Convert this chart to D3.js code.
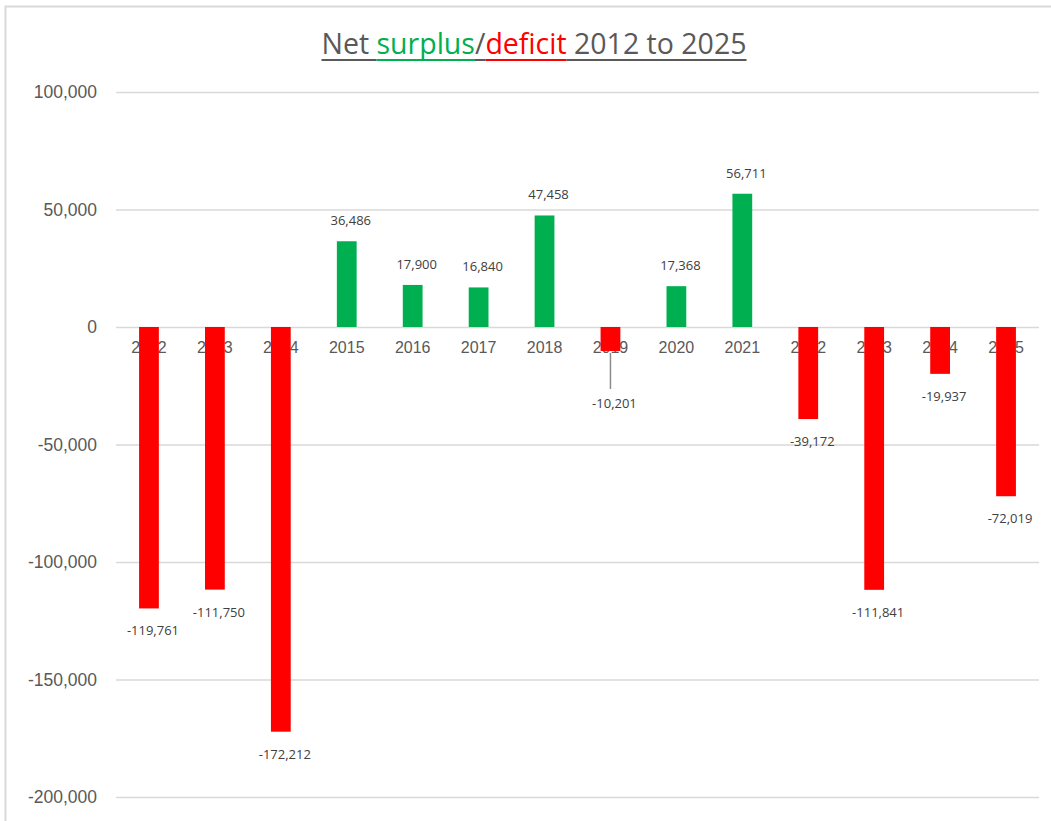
<!DOCTYPE html>
<html>
<head>
<meta charset="utf-8">
<script src="https://cdn.jsdelivr.net/npm/d3@7"></script>
<style>
  body { margin: 0; background: #fff; }
  svg { display: block; font-family: "Open Sans", "Noto Sans", sans-serif; }
</style>
</head>
<body>
<svg id="drawing_region"></svg>
<script>
const years = ['2012', '2013', '2014', '2015', '2016', '2017', '2018', '2019', '2020', '2021', '2022', '2023', '2024', '2025'];
const values = [-119761, -111750, -172212, 36486, 17900, 16840, 47458, -10201, 17368, 56711, -39172, -111841, -19937, -72019];
const yticks = [100000, 50000, 0, -50000, -100000, -150000, -200000];

const width = 1051, height = 821;
const margin = { top: 92, right: 12, bottom: 24, left: 116 };

// plain hyphen for negatives, like the spreadsheet
const fmt = d3.formatLocale({ decimal: '.', thousands: ',', grouping: [3], currency: ['', ''], minus: '-' }).format(',');

const svg = d3.select('#drawing_region')
    .attr('width', width)
    .attr('height', height);

// outer chart border
svg.append('rect')
    .attr('x', 5.5).attr('y', 6.5)
    .attr('width', width + 20).attr('height', height + 20)
    .attr('fill', 'none')
    .attr('stroke', '#d9d9d9')
    .attr('stroke-width', 2);

const inner_width = width - margin.left - margin.right;
const inner_height = 797 - margin.top;

const chart = svg.append('g')
    .attr('transform', `translate(${margin.left}, ${margin.top})`);

const xscale = d3.scaleBand()
    .domain(years)
    .range([0, inner_width])
    .paddingInner(0.7)
    .paddingOuter(0.35);

const yscale = d3.scaleLinear()
    .domain([-200000, 100000])
    .range([inner_height, 0]);

// gridlines + y labels
const yaxis = d3.axisLeft(yscale)
    .tickValues(yticks)
    .tickFormat(fmt)
    .tickSize(-inner_width)
    .tickPadding(19);

const yaxis_group = chart.append('g').call(yaxis);
yaxis_group.select('.domain').remove();
yaxis_group.selectAll('.tick line')
    .attr('stroke', '#d9d9d9')
    .attr('stroke-width', 1.5);
yaxis_group.selectAll('.tick text')
    .attr('fill', '#595959')
    .style('font-size', '17.5px');

// category labels sit at the zero line (behind the bars)
const xaxis = d3.axisBottom(xscale).tickSize(0).tickPadding(15);
const xaxis_group = chart.append('g')
    .attr('transform', `translate(0, ${yscale(0)})`)
    .call(xaxis);
xaxis_group.select('.domain').remove();
xaxis_group.selectAll('.tick text')
    .attr('fill', '#595959')
    .style('font-size', '16px');

// bars
chart.selectAll('rect.bar')
    .data(years)
    .enter()
    .append('rect')
    .attr('class', 'bar')
    .attr('x', (d) => xscale(d))
    .attr('width', xscale.bandwidth())
    .attr('y', (d, i) => yscale(Math.max(0, values[i])))
    .attr('height', (d, i) => Math.abs(yscale(values[i]) - yscale(0)))
    .attr('fill', (d, i) => values[i] >= 0 ? '#00b050' : '#ff0000');

// value labels
const leader = 52; // the small 2019 bar has its label pushed down with a leader line
chart.selectAll('text.value')
    .data(years)
    .enter()
    .append('text')
    .attr('class', 'value')
    .attr('x', (d) => xscale(d) + xscale.bandwidth() / 2 + 4)
    .attr('y', (d, i) => {
        const v = values[i];
        if (d === '2019') return yscale(v) + leader + 5;
        return v >= 0 ? yscale(v) - 16 : yscale(v) + 27;
    })
    .attr('text-anchor', 'middle')
    .attr('fill', '#404040')
    .style('font-size', '13px')
    .text((d, i) => fmt(values[i]));

const i19 = years.indexOf('2019');
chart.append('line')
    .attr('x1', xscale('2019') + xscale.bandwidth() / 2)
    .attr('x2', xscale('2019') + xscale.bandwidth() / 2)
    .attr('y1', yscale(values[i19]) + 2)
    .attr('y2', yscale(values[i19]) + 38)
    .attr('stroke', '#8c8c8c')
    .attr('stroke-width', 1.5);

// title with coloured words, each underlined in its own colour
const parts = [['Net\u00a0', '#595959'], ['surplus', '#00b050'], ['/', '#595959'], ['deficit', '#ff0000'], ['\u00a02012 to 2025', '#595959']];
const title = svg.append('g');
let tx = 0;
const pieces = parts.map(p => {
    const t = title.append('text')
        .attr('x', tx)
        .attr('y', 54)
        .attr('fill', p[1])
        .style('font-size', '28.5px')
        .text(p[0]);
    const w = t.node().getComputedTextLength();
    const piece = { x: tx, w: w, color: p[1] };
    tx += w;
    return piece;
});
pieces.forEach(p => {
    title.append('line')
        .attr('x1', p.x).attr('x2', p.x + p.w)
        .attr('y1', 60).attr('y2', 60)
        .attr('stroke', p.color)
        .attr('stroke-width', 2);
});
title.attr('transform', `translate(${534 - tx / 2}, 0)`);
</script>
</body>
</html>
